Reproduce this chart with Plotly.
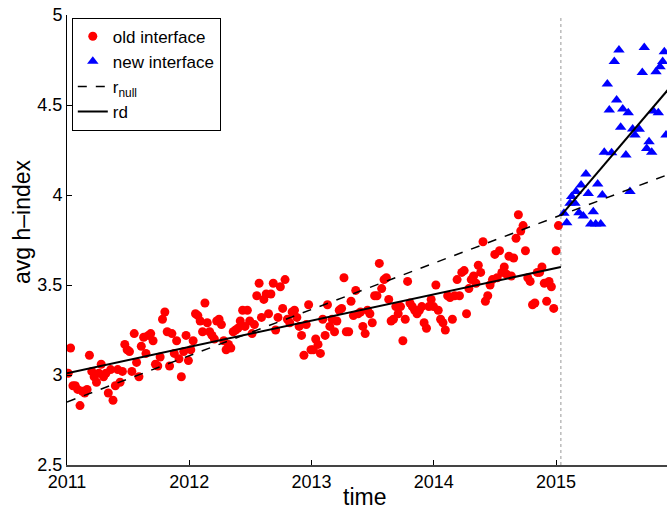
import numpy as np
import plotly.graph_objects as go

# Weekly average h-index before the interface change (2011 -> early 2015)
old_y = [
    # 2011
    3.01, 3.15, 2.94, 2.94, 2.92, 2.83, 2.91, 2.90, 2.92, 3.11, 3.02, 2.99, 2.96,
    3.01, 3.06, 2.99, 3.01, 2.90, 3.03, 2.86, 2.94, 3.03, 2.96, 3.02, 3.17, 3.14,
    3.13, 3.02, 3.23, 3.07, 2.99, 3.16, 3.21, 3.12, 3.22, 3.23, 3.19, 3.06, 3.05,
    3.10, 3.31, 3.35, 3.24, 3.05, 3.23, 3.12, 3.19, 3.09, 2.99, 3.13, 3.22,
    # 2012
    3.08, 3.14, 3.19, 3.34, 3.33, 3.30, 3.24, 3.40, 3.29, 3.24, 3.22, 3.20, 3.30,
    3.31, 3.28, 3.19, 3.14, 3.17, 3.15, 3.24, 3.25, 3.26, 3.30, 3.36, 3.27, 3.36,
    3.30, 3.23, 3.28, 3.44, 3.51, 3.32, 3.42, 3.45, 3.34, 3.45, 3.51, 3.25, 3.32,
    3.49, 3.37, 3.53, 3.31, 3.29, 3.35, 3.36, 3.32, 3.27, 3.22, 3.11, 3.28, 3.39,
    3.14,
    # 2013
    3.14, 3.20, 3.17, 3.12, 3.31, 3.22, 3.39, 3.27, 3.31, 3.24, 3.30, 3.36, 3.37,
    3.54, 3.24, 3.24, 3.41, 3.33, 3.47, 3.34, 3.35, 3.27, 3.23, 3.36, 3.34, 3.29,
    3.44, 3.44, 3.62, 3.48, 3.53, 3.54, 3.42, 3.30, 3.31, 3.38, 3.34, 3.38, 3.19,
    3.31, 3.52, 3.40, 3.38, 3.36, 3.34, 3.36, 3.38, 3.29, 3.26, 3.38, 3.42, 3.38,
    3.50,
    # 2014
    3.36, 3.31, 3.29, 3.25, 3.44, 3.43, 3.31, 3.44, 3.53, 3.44, 3.57, 3.58, 3.34,
    3.48, 3.53, 3.55, 3.51, 3.61, 3.57, 3.74, 3.41, 3.44, 3.50, 3.53, 3.67, 3.54,
    3.69, 3.57, 3.60, 3.56, 3.66, 3.55, 3.65, 3.76, 3.89, 3.80, 3.83, 3.69, 3.54,
    3.52, 3.39, 3.40, 3.57, 3.57, 3.60, 3.51, 3.41, 3.52, 3.49, 3.37, 3.69, 3.83,
]
old_start, old_end = 2011.01, 2015.02
old_x = np.linspace(old_start, old_end, len(old_y))

# Average h-index after the new interface went live (time, value)
new_x = [2015.065, 2015.088, 2015.115, 2015.128, 2015.155, 2015.164, 2015.188,
         2015.205, 2015.223, 2015.245, 2015.264, 2015.284, 2015.305, 2015.325,
         2015.341, 2015.366, 2015.379, 2015.395, 2015.420, 2015.436, 2015.455,
         2015.477, 2015.496, 2015.515, 2015.529, 2015.546, 2015.572, 2015.591,
         2015.605, 2015.627, 2015.646, 2015.681, 2015.706, 2015.722, 2015.742,
         2015.761, 2015.783, 2015.796, 2015.818, 2015.837, 2015.851, 2015.873,
         2015.886, 2015.900]
new_y = [3.898, 3.846, 3.954, 3.991, 3.954, 4.019, 3.902,
         4.056, 3.883, 4.117, 4.009, 3.839, 3.907, 3.839,
         4.061, 3.839, 4.000, 4.237, 4.617, 4.472, 4.235,
         4.741, 4.528, 4.806, 4.376, 4.478, 4.222, 4.457,
         4.019, 4.367, 4.333, 4.365, 4.680, 4.820, 4.259,
         4.296, 4.237, 4.467, 4.685, 4.457, 4.713, 4.741,
         4.796, 4.333]

# Fitted trends: null model (single slope) and regression discontinuity
cutoff = 2015.04
rnull_x = [2011.0, 2016.0]
rnull_y = [2.85, 4.135]
rd_before_x = [2011.0, cutoff]
rd_before_y = [3.01, 3.60]
rd_after_x = [cutoff, 2016.0]
rd_after_y = [3.885, 4.652]

x_ticks = [2011, 2012, 2013, 2014, 2015]
y_ticks = [2.5, 3, 3.5, 4, 4.5, 5]

font = "Liberation Sans, Arial, Helvetica, sans-serif"

fig = go.Figure()
fig.add_trace(go.Scatter(
    x=old_x, y=old_y, mode="markers", name="old interface",
    marker=dict(symbol="circle", size=9, color="#ff0000", line=dict(width=0)),
))
fig.add_trace(go.Scatter(
    x=new_x, y=new_y, mode="markers", name="new interface",
    marker=dict(symbol="triangle-up", size=10, color="#0000ff", line=dict(width=0)),
))
fig.add_trace(go.Scatter(
    x=rnull_x, y=rnull_y, mode="lines", name="r<sub>null</sub>",
    line=dict(color="black", width=1.5, dash="dash"),
))
fig.add_trace(go.Scatter(
    x=rd_before_x, y=rd_before_y, mode="lines", name="rd",
    line=dict(color="black", width=2),
))
fig.add_trace(go.Scatter(
    x=rd_after_x, y=rd_after_y, mode="lines", name="rd", showlegend=False,
    line=dict(color="black", width=2),
))

# interface switch marker
fig.add_shape(type="line", xref="x", yref="paper", x0=cutoff, x1=cutoff, y0=0, y1=1,
              line=dict(color="#999999", width=1, dash="dot"), layer="below")

# axis titles
fig.add_annotation(text="avg h–index", xref="paper", yref="paper",
                   x=-0.075, y=0.54, xanchor="center", yanchor="middle",
                   textangle=-90, showarrow=False,
                   font=dict(family=font, size=23, color="black"))
fig.add_annotation(text="time", xref="paper", yref="paper",
                   x=0.495, y=-0.071, xanchor="center", yanchor="middle",
                   showarrow=False,
                   font=dict(family=font, size=23, color="black"))

fig.update_layout(
    width=667, height=516,
    margin=dict(l=67, r=0, t=15, b=51),
    plot_bgcolor="white", paper_bgcolor="white",
    font=dict(family=font, size=18, color="black"),
    showlegend=True,
    legend=dict(x=0.008, y=0.994, xanchor="left", yanchor="top",
                bgcolor="white", bordercolor="black", borderwidth=1,
                font=dict(size=17), tracegroupgap=0, itemwidth=30),
    xaxis=dict(range=[2011.0, 2015.908], tickvals=x_ticks,
               ticktext=[str(v) for v in x_ticks],
               ticks="inside", ticklen=5, tickcolor="black",
               showline=True, linecolor="#444444", linewidth=1.5,
               showgrid=False, zeroline=False),
    yaxis=dict(range=[2.5, 5], tickvals=y_ticks,
               ticktext=["2.5", "3", "3.5", "4", "4.5", "5"],
               ticks="inside", ticklen=5, tickcolor="black",
               showline=True, linecolor="black", linewidth=1,
               showgrid=False, zeroline=False),
)

fig.write_html("out.html")
